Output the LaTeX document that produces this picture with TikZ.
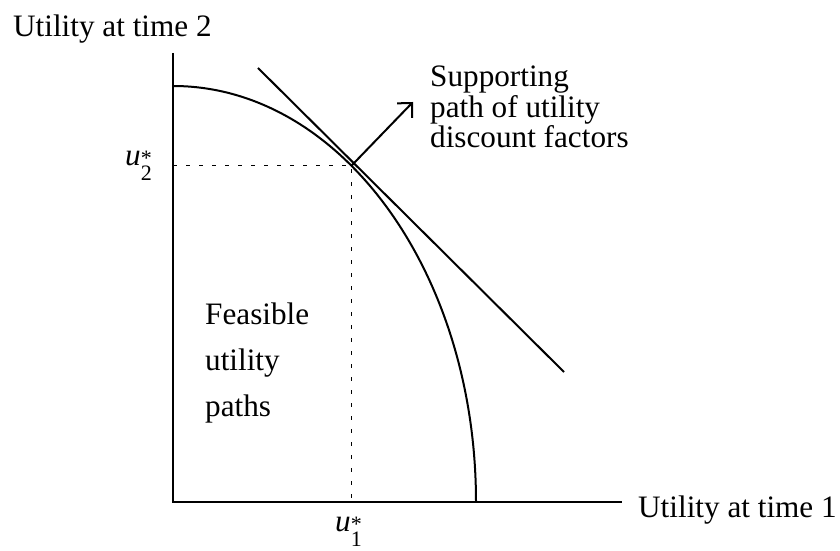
\documentclass[tikz,border=0pt]{standalone}
\usepackage{fontspec}
\setmainfont{Liberation Serif}
\usetikzlibrary{arrows.meta,calc}
\newcommand{\ulabel}[1]{\textit{u}\rlap{\fontsize{22}{22}\selectfont *}\raisebox{-0.47em}{\fontsize{22}{22}\selectfont #1}}
\begin{document}
\begin{tikzpicture}[x=1pt,y=1pt,
  axis/.style={line width=2pt},
  curve/.style={line width=2pt},
  guide/.style={line width=1pt, dash pattern=on 4pt off 9pt},
  lbl/.style={font=\fontsize{31.2}{30.7}\selectfont, inner sep=0pt, anchor=base west, align=left}]
\useasboundingbox (0,0) rectangle (840,551);
\coordinate (O) at (173,49);
\coordinate (ytop) at (173,498);
\coordinate (xend) at (622,49);
\draw[axis] (ytop) -- (O) -- (xend);
\coordinate (c0) at (173,465);
\draw[curve] (c0) arc[start angle=90,end angle=0,x radius=303,y radius=416];
\coordinate (P) at ($(O)+(53.93:303 and 416)$);
\coordinate (t1) at (258,483);
\coordinate (t2) at (564,179);
\draw[curve] (t1) -- (t2);
\coordinate (Px) at (P |- O);
\coordinate (Py) at (P -| O);
\draw[guide] (Py) -- (P) -- (Px);
\coordinate (a) at (413,449);
\draw[curve, -{Straight Barb[length=10.6pt,width=21pt]}] (P) -- (a);
\node[lbl] (ylab) at (13,514) {Utility at time 2};
\node[lbl] (xlab) at (638,33) {Utility at time 1};
\node[lbl] (sup) at (430,403) {Supporting\\path of utility\\discount factors};
\node[lbl, font=\fontsize{31.2}{46}\selectfont] (feas) at (205,134) {Feasible\\utility\\paths};
\node[lbl] (u2) at (125,385) {\ulabel{2}};
\node[lbl] (u1) at (335,19) {\ulabel{1}};
\end{tikzpicture}
\end{document}
